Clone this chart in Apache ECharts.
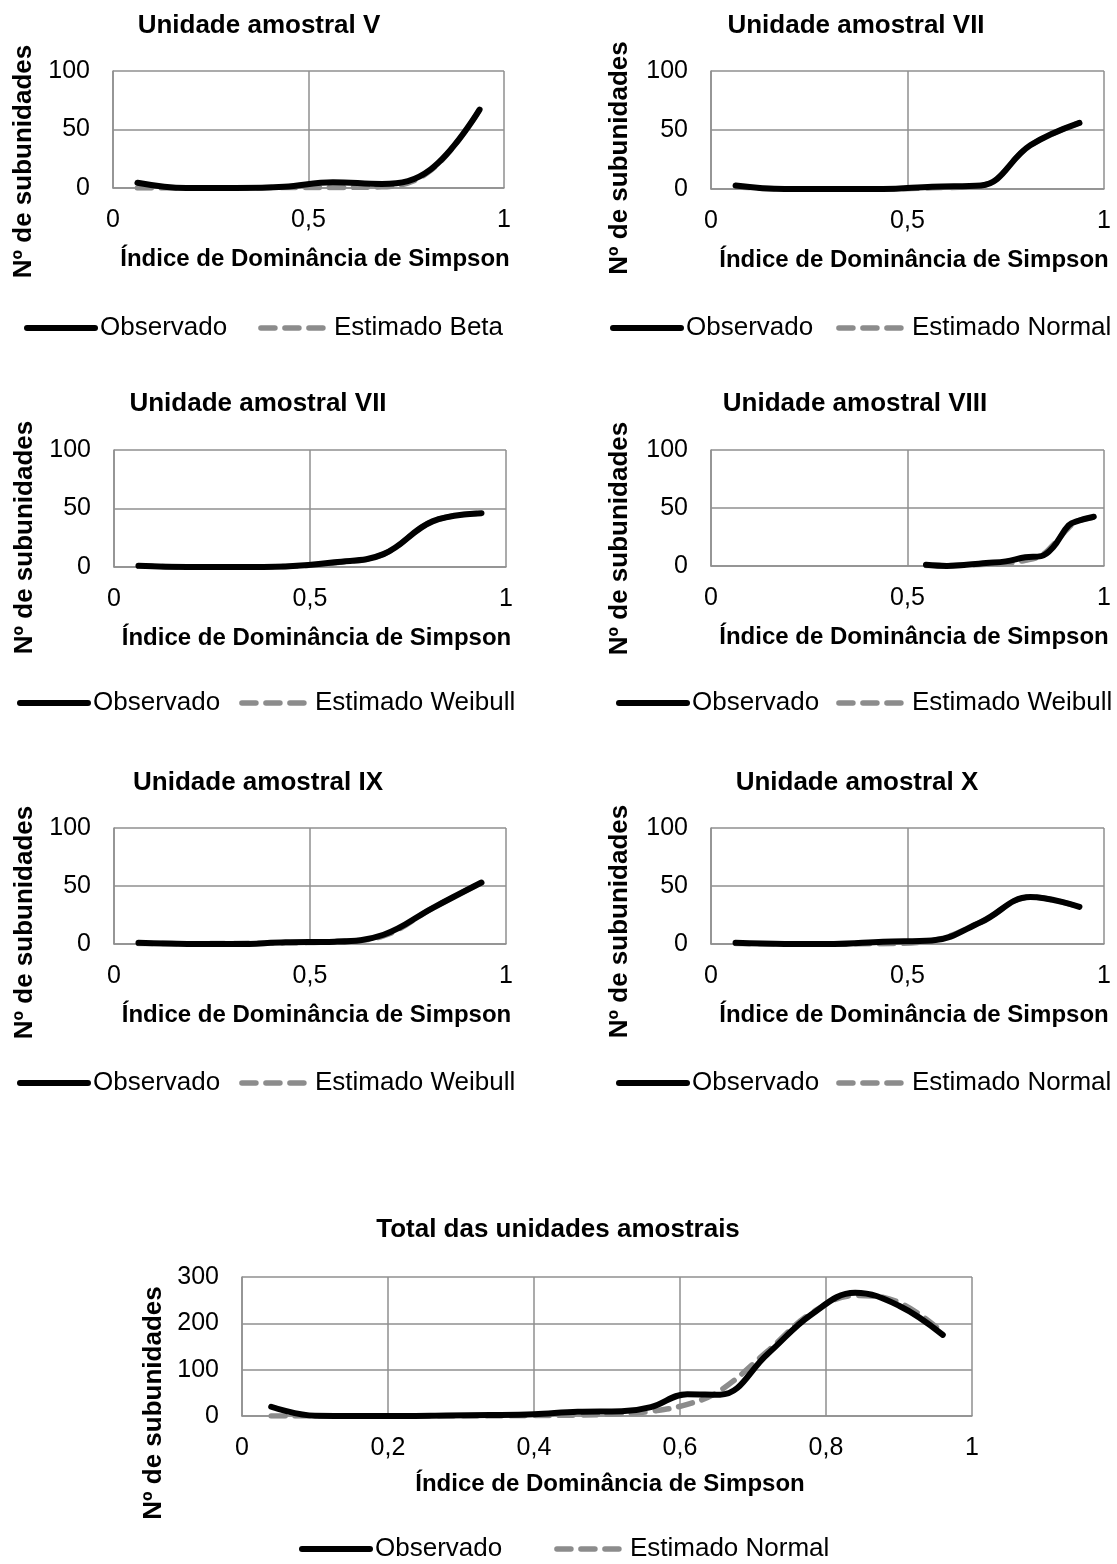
<!DOCTYPE html>
<html>
<head>
<meta charset="utf-8">
<script src="https://cdn.jsdelivr.net/npm/echarts@6/dist/echarts.min.js"></script>
<style>
html,body{margin:0;padding:0;background:#ffffff;}
#chart{width:1117px;height:1564px;}
</style>
</head>
<body>
<div id="chart"></div>
<script>
// ---------------- DATA ----------------
const xClasses   = [0.0625, 0.1875, 0.3125, 0.4375, 0.5625, 0.6875, 0.8125, 0.9375];
const obsV       = [4.5, 0, 0, 1, 5, 3.5, 16, 67];
const estV       = [0, 0, 0, 0.5, 0.5, 1, 15, 67];
const obsVIIa    = [3, 0, 0, 0, 2, 3, 37, 56];
const estVIIa    = [2, 0, 0, 0, 1, 3, 37, 56];
const obsVIIb    = [1, 0, 0, 0.5, 4, 11, 39, 46];
const estVIIb    = [1, 0, 0, 0.5, 3.5, 11, 39, 46];
const xVIII      = [0.547, 0.6, 0.65, 0.7, 0.75, 0.8, 0.84, 0.87, 0.91, 0.935, 0.974];
const obsVIII    = [1, 0, 1, 2.5, 4, 7.5, 8.5, 16, 35, 39, 42.5];
const estVIII    = [0.5, 0.5, 1, 1.5, 2.5, 5, 9, 18, 33, 39, 42];
const obsIX      = [1, 0, 0, 1.5, 2, 8, 31, 53];
const estIX      = [0.5, 0.3, 0.5, 1, 2, 7, 31, 53];
const obsX       = [1, 0, 0, 2, 3, 19, 40.5, 32];
const estX       = [0.5, 0, 0, 0.3, 3, 19, 40.5, 32];
const xTotal     = [0.04, 0.1, 0.16, 0.22, 0.28, 0.34, 0.4, 0.46, 0.52, 0.56, 0.61, 0.655, 0.72, 0.78, 0.84, 0.9, 0.96];
const obsTotal   = [20, 0.5, 0, 0, 1, 2, 4, 9, 10, 19, 47, 46, 134, 219, 266, 238, 175];
const estTotal   = [0, 0, 0, 0, 0, 0, 1, 2, 5, 10, 25, 55, 140, 222, 260, 245, 180];

const titles = ['Unidade amostral V', 'Unidade amostral VII', 'Unidade amostral VII',
                'Unidade amostral VIII', 'Unidade amostral IX', 'Unidade amostral X',
                'Total das unidades amostrais'];
const obsName = 'Observado';
const estNames = ['Estimado Beta', 'Estimado Normal', 'Estimado Weibull',
                  'Estimado Weibull', 'Estimado Weibull', 'Estimado Normal', 'Estimado Normal'];
const xAxisTitle = 'Índice de Dominância de Simpson';
const yAxisTitle = 'Nº de subunidades';

// ---------------- LAYOUT ----------------
const FONT = 'Arial, "Liberation Sans", sans-serif';
const GRAY = '#8c8c8c';
const GRIDC = '#8f8f8f';
const OBS_LINE = {color: '#000', width: 6, type: 'solid', cap: 'round', join: 'round'};
const EST_LINE = {color: GRAY, width: 5.5, type: [14, 10], cap: 'round', join: 'round'};

const panels = [
  {x: xClasses, o: obsV,    e: estV,    g: [113, 71, 391, 117],  tx: 259, ty: 13,   ymax: 100, yi: 50,  xi: 0.5, lg: [24, 315, 31],  sh: 32,   ng: 76, xg: 59},
  {x: xClasses, o: obsVIIa, e: estVIIa, g: [711, 71, 393, 118],  tx: 856, ty: 13,   ymax: 100, yi: 50,  xi: 0.5, lg: [610, 315, 23], sh: 28,   ng: 78, xg: 59},
  {x: xClasses, o: obsVIIb, e: estVIIb, g: [114, 450, 392, 117], tx: 258, ty: 391,  ymax: 100, yi: 50,  xi: 0.5, lg: [17, 690, 19],  sh: 29,   ng: 76, xg: 59},
  {x: xVIII,    o: obsVIII, e: estVIII, g: [711, 450, 393, 116], tx: 855, ty: 391,  ymax: 100, yi: 50,  xi: 0.5, lg: [616, 690, 17], sh: 30.5, ng: 78, xg: 59},
  {x: xClasses, o: obsIX,   e: estIX,   g: [114, 828, 392, 116], tx: 258, ty: 770,  ymax: 100, yi: 50,  xi: 0.5, lg: [17, 1070, 19], sh: 36.5, ng: 76, xg: 59},
  {x: xClasses, o: obsX,    e: estX,    g: [711, 828, 393, 116], tx: 857, ty: 770,  ymax: 100, yi: 50,  xi: 0.5, lg: [616, 1070, 17],sh: 35.5, ng: 78, xg: 59},
  {x: xTotal,   o: obsTotal,e: estTotal,g: [242, 1277, 730, 139],tx: 558, ty: 1217, ymax: 300, yi: 100, xi: 0.2, lg: [299, 1536, 52], sh: 56.5, ng: 69, xg: 56}
];

const fmtNum = v => String(+Number(v).toFixed(2)).replace('.', ',');

const option = {
  animation: false,
  backgroundColor: '#ffffff',
  title: [], grid: [], xAxis: [], yAxis: [], series: [], legend: []
};

panels.forEach((p, i) => {
  option.title.push({
    text: titles[i], left: p.tx, top: p.ty, textAlign: 'center', padding: 0,
    textStyle: {fontFamily: FONT, fontSize: 26, fontWeight: 'bold', color: '#000'}
  });
  option.grid.push({
    left: p.g[0], top: p.g[1], width: p.g[2], height: p.g[3],
    containLabel: false, outerBoundsMode: 'none', show: false
  });
  option.xAxis.push({
    type: 'value', gridIndex: i, min: 0, max: 1, interval: p.xi,
    name: xAxisTitle, nameLocation: 'middle', nameGap: p.xg,
    nameTextStyle: {fontFamily: FONT, fontSize: 24, fontWeight: 'bold', color: '#000',
                    padding: [0, 0, 0, i === 6 ? 6 : 13]},
    axisLine: {show: true, lineStyle: {color: GRIDC, width: 1.5}},
    axisTick: {show: false},
    splitLine: {show: true, lineStyle: {color: GRIDC, width: 1.5}},
    axisLabel: {fontFamily: FONT, fontSize: 25, color: '#000', margin: 20,
                formatter: fmtNum, showMinLabel: true, showMaxLabel: true}
  });
  option.yAxis.push({
    type: 'value', gridIndex: i, min: 0, max: p.ymax, interval: p.yi,
    name: yAxisTitle, nameLocation: 'middle', nameGap: p.ng, nameRotate: 90,
    nameTextStyle: {fontFamily: FONT, fontSize: 26, fontWeight: 'bold', color: '#000',
                    padding: [0, 2 * p.sh, 0, 0]},
    axisLine: {show: true, lineStyle: {color: GRIDC, width: 1.5}},
    axisTick: {show: false},
    splitLine: {show: true, lineStyle: {color: GRIDC, width: 1.5}},
    axisLabel: {fontFamily: FONT, fontSize: 25, color: '#000', margin: 23,
                showMinLabel: true, showMaxLabel: true}
  });
  option.series.push({
    type: 'line', name: estNames[i], xAxisIndex: i, yAxisIndex: i,
    data: p.x.map((xv, k) => [xv, p.e[k]]),
    symbol: 'none', showSymbol: false, smooth: 0.4, z: 2,
    lineStyle: EST_LINE, itemStyle: {color: GRAY}
  });
  option.series.push({
    type: 'line', name: obsName, xAxisIndex: i, yAxisIndex: i,
    data: p.x.map((xv, k) => [xv, p.o[k]]),
    symbol: 'none', showSymbol: false, smooth: 0.4, z: 3,
    lineStyle: OBS_LINE, itemStyle: {color: '#000'}
  });
  option.legend.push({
    data: [
      {name: obsName, itemStyle: {opacity: 0}, lineStyle: OBS_LINE},
      {name: estNames[i], itemStyle: {opacity: 0}, lineStyle: EST_LINE}
    ],
    left: p.lg[0], top: p.lg[1], itemGap: p.lg[2],
    orient: 'horizontal', padding: 0, itemWidth: 68, itemHeight: 14,
    selectedMode: false,
    textStyle: {fontFamily: FONT, fontSize: 26, color: '#000'}
  });
});

const chart = echarts.init(document.getElementById('chart'), null, {renderer: 'canvas'});
chart.setOption(option);
</script>
</body>
</html>
